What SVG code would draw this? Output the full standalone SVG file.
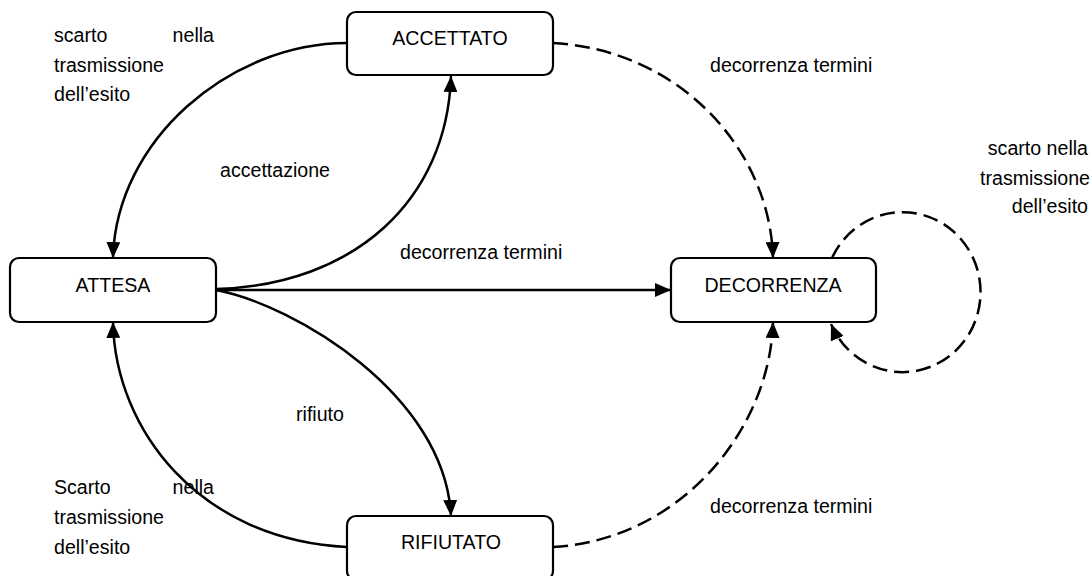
<svg xmlns="http://www.w3.org/2000/svg" width="1090" height="576" viewBox="0 0 1090 576">
<style>
.box{fill:#fff;stroke:#000;stroke-width:2.2}
.lbl{font-family:"Liberation Sans",Arial,sans-serif;font-size:19.6px;fill:#000}
.mid{text-anchor:middle}
.end{text-anchor:end}
.c{fill:none;stroke:#000;stroke-width:2.5}
.d{stroke-dasharray:15 7}
</style>
<defs>
<marker id="ah" markerUnits="userSpaceOnUse" markerWidth="16" markerHeight="14" refX="16" refY="7" orient="auto">
<path d="M0,0 L16,7 L0,14 z" fill="#000"/>
</marker>
</defs>
<rect width="1090" height="576" fill="#fff"/>
<g id="connectors">
<path class="c" d="M347,43 C230,43 116,140 113,258" marker-end="url(#ah)"/>
<path class="c" d="M216,289 C355,285 447,200 451,76" marker-end="url(#ah)"/>
<path class="c" d="M216,290 L671,290" marker-end="url(#ah)"/>
<path class="c" d="M216,290 C295,305 445,395 451,516" marker-end="url(#ah)"/>
<path class="c" d="M347,547 C200,540 115,430 113,322" marker-end="url(#ah)"/>
<path class="c d" d="M553,43 C680,50 770,150 773,258" marker-end="url(#ah)"/>
<path class="c d" d="M553,547 C680,540 770,430 773,322" marker-end="url(#ah)"/>
<path class="c d" d="M832,258 A78 80 0 1 1 831,324" marker-end="url(#ah)"/>
</g>
<g id="labels">
<text class="lbl" x="54" y="42">scarto</text>
<text class="lbl end" x="214" y="42">nella</text>
<text class="lbl" x="54" y="72">trasmissione</text>
<text class="lbl" x="54" y="101">dell’esito</text>
<text class="lbl" x="220" y="177">accettazione</text>
<text class="lbl" x="400" y="259">decorrenza termini</text>
<text class="lbl" x="710" y="72">decorrenza termini</text>
<text class="lbl end" x="1088" y="155">scarto nella</text>
<text class="lbl end" x="1090" y="185">trasmissione</text>
<text class="lbl end" x="1088" y="213">dell’esito</text>
<text class="lbl" x="296" y="421">rifiuto</text>
<text class="lbl" x="54" y="494">Scarto</text>
<text class="lbl end" x="214" y="494">nella</text>
<text class="lbl" x="54" y="524">trasmissione</text>
<text class="lbl" x="54" y="554">dell’esito</text>
<text class="lbl" x="710" y="513">decorrenza termini</text>
</g>
<g id="ACCETTATO">
<rect class="box" x="347" y="12" width="206" height="63" rx="9"/>
<text class="lbl mid" x="450" y="45">ACCETTATO</text>
</g>
<g id="ATTESA">
<rect class="box" x="10" y="258" width="206" height="64" rx="9"/>
<text class="lbl mid" x="113" y="292">ATTESA</text>
</g>
<g id="DECORRENZA">
<rect class="box" x="671" y="258" width="205" height="64" rx="9"/>
<text class="lbl mid" x="773" y="292">DECORRENZA</text>
</g>
<g id="RIFIUTATO">
<rect class="box" x="347" y="516" width="206" height="64" rx="9"/>
<text class="lbl mid" x="451" y="549">RIFIUTATO</text>
</g>
</svg>
